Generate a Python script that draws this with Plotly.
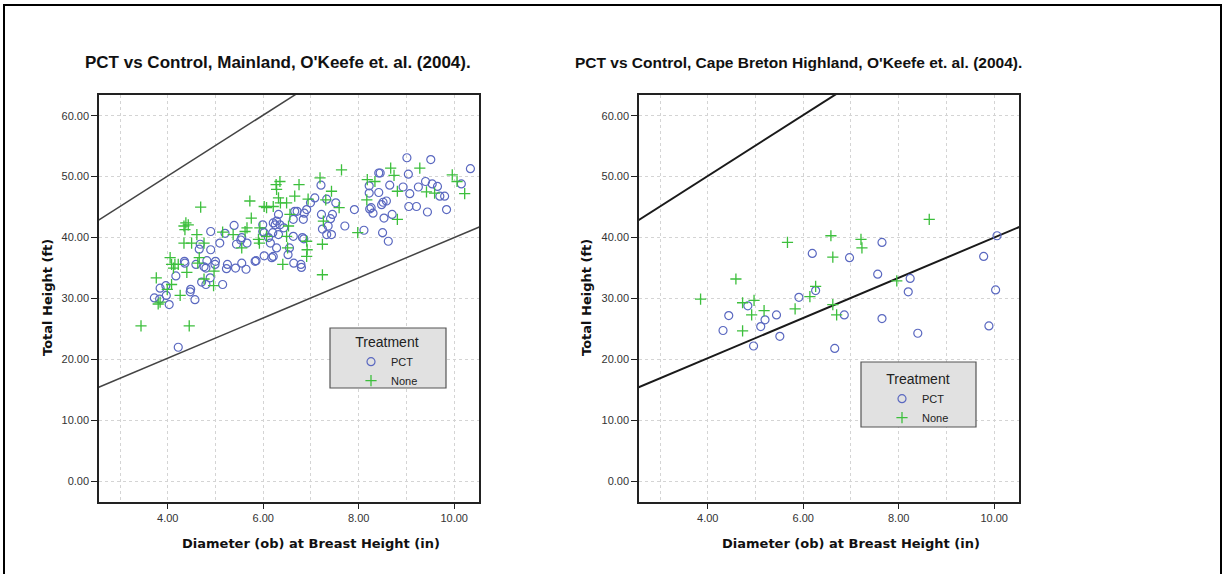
import plotly.graph_objects as go

# ---------------- data ----------------
left_pct_x = [9.01, 9.51, 10.34, 8.42, 8.45, 9.04, 8.22, 8.65, 9.40, 9.54, 9.65, 10.15, 8.93, 9.25, 9.07, 8.22, 8.42,
              9.70, 9.80, 9.84, 9.44, 9.05, 9.21, 8.51, 8.48, 8.58, 8.53, 8.70, 8.30, 8.23, 8.26, 8.50, 8.62, 8.11,
              7.91, 7.71, 7.52, 7.33, 7.43, 7.33, 7.24, 7.45, 7.41, 7.22, 7.21, 7.08, 6.99, 6.91, 6.86, 6.66, 6.71,
              6.63, 6.84, 6.82, 6.85, 6.79, 6.80, 6.64, 6.52, 6.55, 6.63, 6.43, 6.32, 6.28, 6.25, 6.35, 6.32, 6.21,
              6.20, 6.11, 6.15, 6.28, 6.02, 5.99, 5.99, 6.21, 6.18, 6.02, 5.83, 5.85, 5.64, 5.55, 5.42, 5.66, 5.55,
              5.53, 5.44, 5.39, 5.20, 5.09, 5.25, 5.23, 5.15, 4.90, 4.90, 5.00, 4.99, 4.82, 4.76, 4.80, 4.68, 4.66,
              4.59, 4.89, 4.71, 4.80, 4.35, 4.36, 4.17, 3.96, 3.84, 4.48, 4.47, 3.72, 3.83, 3.97, 4.03, 4.57, 4.22,
              7.36]
left_pct_y = [53.1, 52.8, 51.3, 50.6, 50.6, 50.4, 48.5, 48.6, 49.2, 48.8, 48.4, 48.8, 48.3, 48.3, 47.2, 47.3, 47.4,
              46.8, 46.8, 44.6, 44.2, 45.1, 45.1, 45.8, 45.4, 46.0, 43.2, 43.8, 44.0, 44.7, 44.9, 40.8, 39.4, 41.2,
              44.6, 41.9, 45.7, 46.3, 40.5, 40.5, 41.4, 43.8, 43.1, 43.8, 48.6, 46.5, 45.7, 44.6, 44.0, 44.3, 44.3,
              43.0, 43.0, 40.0, 39.8, 35.6, 35.1, 35.8, 37.2, 38.3, 40.2, 41.6, 40.5, 42.7, 42.1, 42.1, 43.8, 42.4,
              40.8, 40.0, 39.1, 38.3, 40.8, 42.1, 41.0, 36.9, 36.7, 37.0, 36.1, 36.2, 34.8, 35.8, 35.0, 39.1, 40.0,
              39.6, 38.9, 42.0, 40.7, 39.1, 35.6, 34.9, 32.3, 41.0, 38.0, 36.1, 35.6, 36.2, 35.2, 35.0, 38.9, 38.1,
              35.6, 33.4, 32.7, 32.3, 36.1, 35.8, 33.7, 32.1, 31.7, 31.5, 31.1, 30.1, 29.9, 30.5, 29.0, 29.8, 22.0,
              41.9]

left_none_x = [7.64, 8.67, 9.28, 8.74, 9.96, 10.06, 10.22, 8.18, 8.34, 9.42, 9.59, 8.81, 8.81, 8.17, 7.98, 7.59, 7.43,
               7.31, 7.19, 7.26, 7.24, 7.24, 6.91, 6.92, 6.91, 6.94, 6.75, 6.66, 6.35, 6.27, 6.28, 6.36, 6.49, 6.32,
               6.02, 6.07, 6.21, 6.56, 6.53, 6.49, 6.51, 6.41, 6.07, 5.93, 5.92, 5.90, 5.66, 5.62, 5.72, 5.75, 5.55,
               5.37, 5.15, 4.97, 4.69, 4.61, 4.76, 4.66, 4.63, 4.40, 4.50, 4.34, 4.38, 4.43, 4.34, 4.36, 4.05, 4.08,
               4.15, 4.12, 4.22, 3.76, 4.08, 4.96, 4.76, 3.44, 4.45, 3.80, 4.26, 3.99, 3.84]
left_none_y = [51.1, 51.4, 51.4, 50.2, 50.3, 49.2, 47.2, 49.5, 49.2, 47.5, 47.3, 47.6, 43.0, 46.2, 40.8, 44.9, 47.6,
               46.2, 49.8, 42.7, 38.9, 33.9, 39.4, 38.0, 36.9, 46.3, 48.7, 46.8, 49.2, 48.7, 47.9, 45.7, 45.7, 46.5,
               45.1, 44.9, 45.1, 43.8, 41.9, 40.2, 38.3, 35.6, 40.2, 41.6, 39.1, 39.7, 41.6, 41.0, 46.0, 43.2, 38.3,
               40.5, 40.9, 34.5, 45.0, 40.5, 39.1, 36.7, 35.8, 34.3, 39.1, 39.1, 42.4, 42.1, 41.9, 41.3, 36.7, 35.6,
               35.6, 35.0, 35.6, 33.4, 32.3, 32.1, 33.2, 25.5, 25.5, 29.1, 30.5, 31.5, 29.4]

right_pct_x = [4.32, 4.44, 4.84, 4.96, 5.11, 5.20, 5.44, 5.51, 5.91, 6.19, 6.26, 6.66, 6.86, 6.97, 7.56, 7.65, 7.65,
               8.20, 8.24, 8.40, 9.78, 9.89, 10.03, 10.06]
right_pct_y = [24.75, 27.2, 28.8, 22.2, 25.4, 26.5, 27.3, 23.8, 30.2, 37.4, 31.3, 21.8, 27.3, 36.7, 34.0, 39.2, 26.7,
               31.1, 33.3, 24.3, 36.9, 25.5, 31.4, 40.3]

right_none_x = [3.85, 4.59, 4.73, 4.73, 4.92, 4.97, 5.18, 5.67, 5.83, 6.14, 6.26, 6.58, 6.62, 6.62, 6.70, 7.21, 7.23,
                7.96, 8.64]
right_none_y = [29.9, 33.2, 24.7, 29.3, 27.3, 29.7, 28.0, 39.2, 28.3, 30.3, 32.0, 40.3, 36.8, 29.0, 27.3, 39.7, 38.3,
                32.9, 43.0]

# reference lines: y = slope * x + intercept
ref_slopes = [5.0, 3.3]
ref_intercepts = [30.1, 7.0]
ref_x = [2.0, 12.0]

titles = ["PCT vs Control, Mainland, O'Keefe et. al. (2004).",
          "PCT vs Control, Cape Breton Highland, O'Keefe et. al. (2004)."]
x_title = "Diameter (ob) at Breast Height (in)"
y_title = "Total Height (ft)"
legend_title = "Treatment"
x_ticks = [4, 6, 8, 10]
y_ticks = [0, 10, 20, 30, 40, 50, 60]

# ---------------- figure ----------------
W, H = 1227, 574
BLUE = "#5a68c0"
GREEN = "#3cbf3c"

fig = go.Figure()

panels = [
    dict(xa="x", ya="y", px=left_pct_x, py=left_pct_y, nx=left_none_x, ny=left_none_y,
         legend="legend", line_color="#444444", line_w=1.5),
    dict(xa="x2", ya="y2", px=right_pct_x, py=right_pct_y, nx=right_none_x, ny=right_none_y,
         legend="legend2", line_color="#1a1a1a", line_w=2),
]

for p in panels:
    for s, b in zip(ref_slopes, ref_intercepts):
        fig.add_trace(go.Scatter(x=ref_x, y=[s * v + b for v in ref_x], mode="lines",
                                 line=dict(color=p["line_color"], width=p["line_w"]),
                                 xaxis=p["xa"], yaxis=p["ya"], showlegend=False, hoverinfo="skip"))
    fig.add_trace(go.Scatter(x=p["px"], y=p["py"], mode="markers", name="PCT",
                             marker=dict(symbol="circle-open", size=8, color=BLUE, line=dict(width=1.2, color=BLUE)),
                             xaxis=p["xa"], yaxis=p["ya"], legend=p["legend"]))
    fig.add_trace(go.Scatter(x=p["nx"], y=p["ny"], mode="markers", name="None",
                             marker=dict(symbol="cross-thin-open", size=8, color=GREEN, line=dict(width=1.3, color=GREEN)),
                             xaxis=p["xa"], yaxis=p["ya"], legend=p["legend"]))

def px2x(v):
    return v / W

def py2y(v):
    return 1 - v / H

plot_top, plot_bot = 95, 502
left_dom = [px2x(99), px2x(479)]
right_dom = [px2x(639), px2x(1019)]
ydom = [py2y(plot_bot), py2y(plot_top)]

GRID = "#d4d4d4"
tickfont = dict(family="Liberation Sans, Arial, sans-serif", size=11, color="#333333")
xcommon = dict(range=[2.56, 10.52], tickvals=x_ticks, ticktext=[f"{v:.2f}" for v in x_ticks],
               showgrid=True, gridcolor=GRID, griddash="3px,3px", gridwidth=1,
               minor=dict(dtick=1, tick0=0, showgrid=True, gridcolor=GRID, griddash="3px,3px", ticks=""),
               showline=True, linecolor="#222222", linewidth=1.5, mirror=True,
               ticks="outside", ticklen=5, tickcolor="#222222", tickfont=tickfont,
               zeroline=False, automargin=False, fixedrange=True)
ycommon = dict(range=[-3.4, 63.4], tickvals=y_ticks, ticktext=[f"{v:.2f}" for v in y_ticks],
               showgrid=True, gridcolor=GRID, griddash="3px,3px", gridwidth=1,
               showline=True, linecolor="#222222", linewidth=1.5, mirror=True,
               ticks="outside", ticklen=6, tickcolor="#222222", tickfont=tickfont,
               zeroline=False, automargin=False, fixedrange=True)

legend_common = dict(bgcolor="rgba(0,0,0,0)", borderwidth=0,
                     title=dict(text=legend_title, side="top center",
                                font=dict(family="Liberation Sans, Arial, sans-serif", size=14, color="#222222")),
                     font=dict(family="Liberation Sans, Arial, sans-serif", size=11, color="#222222"),
                     xanchor="left", yanchor="top", itemwidth=30, tracegroupgap=0, itemclick=False)

fig.update_layout(
    width=W, height=H,
    margin=dict(l=0, r=0, t=0, b=0),
    paper_bgcolor="white", plot_bgcolor="white",
    xaxis=dict(domain=left_dom, anchor="y", **xcommon),
    yaxis=dict(domain=ydom, anchor="x", **ycommon),
    xaxis2=dict(domain=right_dom, anchor="y2", **xcommon),
    yaxis2=dict(domain=ydom, anchor="x2", **ycommon),
    legend=dict(x=px2x(351), y=py2y(329), **legend_common),
    legend2=dict(x=px2x(882), y=py2y(366), **legend_common),
    showlegend=True,
)

title_font = dict(family="Liberation Sans, Arial, sans-serif", size=17, color="#111111")
title_font2 = dict(family="Liberation Sans, Arial, sans-serif", size=15.5, color="#111111")
axis_font = dict(family="DejaVu Sans, Verdana, sans-serif", size=13, color="#111111")
annotations = [
    dict(text="<b>" + titles[0] + "</b>", x=px2x(83), y=py2y(62), xanchor="left", yanchor="middle", font=title_font),
    dict(text="<b>" + titles[1] + "</b>", x=px2x(573), y=py2y(62), xanchor="left", yanchor="middle", font=title_font2),
    dict(text="<b>" + x_title + "</b>", x=px2x(311), y=py2y(543), xanchor="center", yanchor="middle", font=axis_font),
    dict(text="<b>" + x_title + "</b>", x=px2x(851), y=py2y(543), xanchor="center", yanchor="middle", font=axis_font),
    dict(text="<b>" + y_title + "</b>", x=px2x(47), y=py2y(298), xanchor="center", yanchor="middle", textangle=-90, font=axis_font),
    dict(text="<b>" + y_title + "</b>", x=px2x(586), y=py2y(298), xanchor="center", yanchor="middle", textangle=-90, font=axis_font),
]
for a in annotations:
    a.update(xref="paper", yref="paper", showarrow=False)
fig.update_layout(annotations=annotations)

# legend boxes (drawn behind the transparent legends)
for (bx0, by0, bx1, by1) in [(330, 328, 446, 388), (861, 362, 976, 427)]:
    fig.add_shape(type="rect", xref="paper", yref="paper", x0=px2x(bx0), x1=px2x(bx1), y0=py2y(by1), y1=py2y(by0),
                  line=dict(color="#555555", width=1.2), fillcolor="#e1e1e1", layer="above")

# outer frame
fig.add_shape(type="rect", xref="paper", yref="paper", x0=px2x(4), x1=px2x(1221), y0=py2y(580), y1=py2y(5),
              line=dict(color="black", width=2), fillcolor="rgba(0,0,0,0)", layer="above")

fig.write_html("out.html")
